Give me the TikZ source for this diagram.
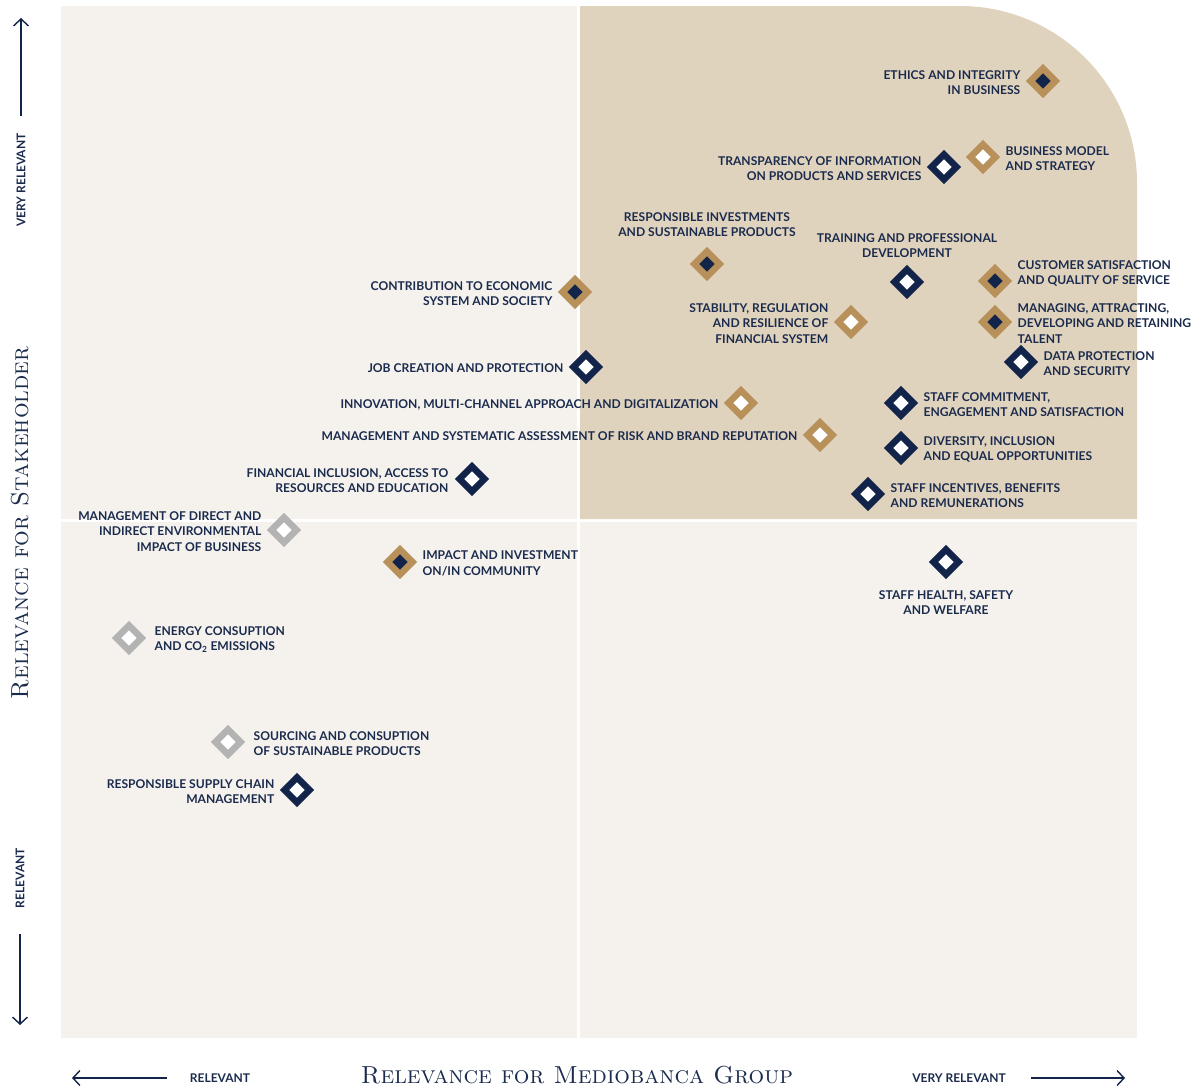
\documentclass[tikz,border=0pt]{standalone}
\usepackage{fontspec}
\setsansfont{Lato}
\usetikzlibrary{shapes.geometric, arrows.meta, positioning}
\definecolor{navy}{HTML}{13244A}
\definecolor{navytext}{HTML}{1B2B4D}
\definecolor{gold}{HTML}{B8915A}
\definecolor{greymk}{HTML}{B3B3B3}
\definecolor{tanbg}{HTML}{E0D3BE}
\definecolor{lightbg}{HTML}{F5F2EE}

\begin{document}
\begin{tikzpicture}[x=1pt, y=-1pt, node distance=10pt,
  dia/.style={diamond, inner sep=0pt, outer sep=0pt, minimum width=25pt, minimum height=25pt, line width=6.4pt},
  goldfull/.style={dia, draw=gold, fill=navy},
  goldopen/.style={dia, draw=gold, fill=white},
  navyopen/.style={dia, draw=navy, fill=white},
  greyopen/.style={dia, draw=greymk, fill=white},
  txt/.style={font=\sffamily\bfseries\fontsize{12.1}{15.5}\selectfont, text=navytext, inner sep=0pt, yshift=-1.5pt},
  txtl/.style={txt, align=right},
  txtr/.style={txt, align=left},
  txtc/.style={txt, align=center},
  axislbl/.style={font=\sffamily\bfseries\fontsize{12}{12}\selectfont, text=navytext, inner sep=0pt},
  axistitle/.style={font=\fontsize{24.6}{24.6}\selectfont\scshape, text=navytext, inner sep=0pt},
  axisarrow/.style={draw=navy, line width=1.4pt, -{Straight Barb[length=7pt, width=15pt]}}]
\fill[white] (0,0) rectangle (1202,1088);
\useasboundingbox (0,0) rectangle (1202,1088);
\fill[lightbg] (61,6) rectangle (577,519);
\fill[lightbg] (61,522) rectangle (577,1038);
\fill[lightbg] (580,522) rectangle (1137,1038);
\fill[tanbg] (580,519) -- (580,6) -- (960,6) arc (90:0:177pt) -- (1137,519) -- cycle;

\node[goldfull] (ethics) at (1043,81) {};
\node[goldopen] (bizmodel) at (983,157) {};
\node[navyopen] (transp) at (944,167) {};
\node[goldfull] (respinv) at (707,264) {};
\node[navyopen] (training) at (907,282) {};
\node[goldfull] (custsat) at (995,281) {};
\node[goldfull] (contrib) at (575,292) {};
\node[goldopen] (stability) at (851,322) {};
\node[goldfull] (talent) at (995,322) {};
\node[navyopen] (dataprot) at (1021,362) {};
\node[navyopen] (jobs) at (586,367) {};
\node[goldopen] (innov) at (741,403) {};
\node[navyopen] (commit) at (901,403) {};
\node[goldopen] (risk) at (820,435) {};
\node[navyopen] (divers) at (901,448) {};
\node[navyopen] (fincl) at (472,479) {};
\node[navyopen] (incent) at (868,494) {};
\node[greyopen] (envimp) at (284,530) {};
\node[goldfull] (commun) at (400,562) {};
\node[navyopen] (health) at (946,562) {};
\node[greyopen] (energy) at (129,638) {};
\node[greyopen] (sourcing) at (228,742) {};
\node[navyopen] (supply) at (297,790) {};

\node[txtl, left=of ethics] (ethicstxt) {ETHICS AND INTEGRITY\\IN BUSINESS};
\node[txtr, right=of bizmodel] (bizmodeltxt) {BUSINESS MODEL\\AND STRATEGY};
\node[txtl, left=of transp] (transptxt) {TRANSPARENCY OF INFORMATION\\ON PRODUCTS AND SERVICES};
\node[txtc, above=16pt of respinv] (respinvtxt) {RESPONSIBLE INVESTMENTS\\AND SUSTAINABLE PRODUCTS};
\node[txtc, above=13pt of training] (trainingtxt) {TRAINING AND PROFESSIONAL\\DEVELOPMENT};
\node[txtr, right=of custsat, yshift=9pt] (custsattxt) {CUSTOMER SATISFACTION\\AND QUALITY OF SERVICE};
\node[txtl, left=of contrib] (contribtxt) {CONTRIBUTION TO ECONOMIC\\SYSTEM AND SOCIETY};
\node[txtl, left=of stability] (stabilitytxt) {STABILITY, REGULATION\\AND RESILIENCE OF\\FINANCIAL SYSTEM};
\node[txtr, right=of talent] (talenttxt) {MANAGING, ATTRACTING,\\DEVELOPING AND RETAINING\\TALENT};
\node[txtr, right=of dataprot] (dataprottxt) {DATA PROTECTION\\AND SECURITY};
\node[txtl, left=of jobs] (jobstxt) {JOB CREATION AND PROTECTION};
\node[txtl, left=of innov] (innovtxt) {INNOVATION, MULTI-CHANNEL APPROACH AND DIGITALIZATION};
\node[txtr, right=of commit] (committxt) {STAFF COMMITMENT,\\ENGAGEMENT AND SATISFACTION};
\node[txtl, left=of risk] (risktxt) {MANAGEMENT AND SYSTEMATIC ASSESSMENT OF RISK AND BRAND REPUTATION};
\node[txtr, right=of divers] (diverstxt) {DIVERSITY, INCLUSION\\AND EQUAL OPPORTUNITIES};
\node[txtl, left=11pt of fincl] (fincltxt) {FINANCIAL INCLUSION, ACCESS TO\\RESOURCES AND EDUCATION};
\node[txtr, right=of incent] (incenttxt) {STAFF INCENTIVES, BENEFITS\\AND REMUNERATIONS};
\node[txtl, left=of envimp] (envimptxt) {MANAGEMENT OF DIRECT AND\\INDIRECT ENVIRONMENTAL\\IMPACT OF BUSINESS};
\node[txtr, right=of commun] (communtxt) {IMPACT AND INVESTMENT\\ON/IN COMMUNITY};
\node[txtc, below=14pt of health] (healthtxt) {STAFF HEALTH, SAFETY\\AND WELFARE};
\node[txtr, right=13pt of energy] (energytxt) {ENERGY CONSUPTION\\AND CO\textsubscript{2} EMISSIONS};
\node[txtr, right=13pt of sourcing] (sourcingtxt) {SOURCING AND CONSUPTION\\OF SUSTAINABLE PRODUCTS};
\node[txtl, left=of supply] (supplytxt) {RESPONSIBLE SUPPLY CHAIN\\MANAGEMENT};

\node[axistitle, rotate=90] (stakeholder) at (20,523) {Relevance for Stakeholder};
\node[axistitle] (group) at (577,1075) {Relevance for Mediobanca Group};
\node[axislbl, rotate=90] (yhigh) at (21,180) {VERY RELEVANT};
\node[axislbl, rotate=90] (ylow) at (20,878) {RELEVANT};
\node[axislbl] (xlow) at (220,1078) {RELEVANT};
\node[axislbl] (xhigh) at (959,1078) {VERY RELEVANT};
\coordinate (ytop) at (21,18);
\coordinate (ybot) at (20,1025);
\coordinate (xleft) at (72,1078);
\coordinate (xright) at (1125,1078);
\draw[axisarrow] ([yshift=17pt]yhigh.east) -- (ytop);
\draw[axisarrow] ([yshift=-26pt]ylow.west) -- (ybot);
\draw[axisarrow] ([xshift=-23pt]xlow.west) -- (xleft);
\draw[axisarrow] ([xshift=25pt]xhigh.east) -- (xright);
\end{tikzpicture}
\end{document}
